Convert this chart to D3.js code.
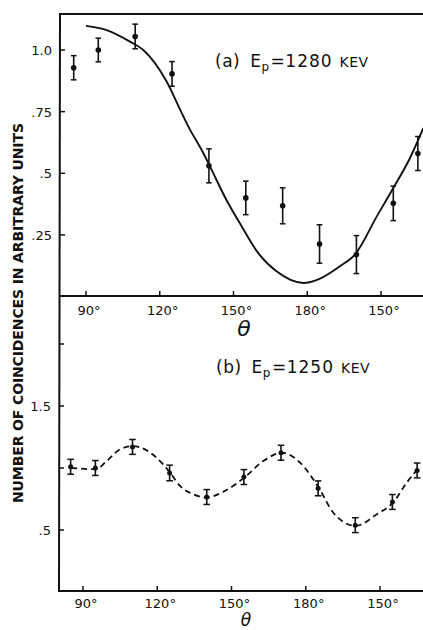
<!DOCTYPE html>
<html>
<head>
<meta charset="utf-8">
<script src="https://cdn.jsdelivr.net/npm/d3@7"></script>
<style>
html,body{margin:0;padding:0;background:#fff;}
svg{display:block;}
text{font-family:"DejaVu Sans",sans-serif;fill:#111;}
</style>
</head>
<body>
<svg id="chart" width="423" height="630"></svg>
<script>
// ---------- data ----------
const tickAngles = [90, 120, 150, 180, 210];
const tickLabels = ["90°", "120°", "150°", "180°", "150°"];

// panel (a)  Ep = 1280 keV
const thetaA = [85, 95, 110, 125, 140, 155, 170, 185, 200, 215, 225];
const valueA = [0.928, 1.0, 1.055, 0.903, 0.530, 0.400, 0.368, 0.213, 0.170, 0.378, 0.580];
const errA   = [0.049, 0.048, 0.050, 0.050, 0.069, 0.068, 0.073, 0.078, 0.077, 0.070, 0.069];
const curveThetaA = [90, 98.4, 107.9, 113.3, 122.8, 128.2, 131.6, 137.7, 140.4, 147.8, 153.3, 160, 167.5, 178.4, 185.2, 193.3, 199.4, 208.3, 215, 221.8, 227.2];
const curveValueA = [1.098, 1.081, 1.034, 1.0, 0.872, 0.76, 0.69, 0.582, 0.528, 0.379, 0.285, 0.177, 0.102, 0.055, 0.073, 0.123, 0.170, 0.325, 0.440, 0.562, 0.683];
const yTicksA = [0.25, 0.5, 0.75, 1.0];
const yLabelsA = [".25", ".5", ".75", "1.0"];

// panel (b)  Ep = 1250 keV
const thetaB = [85, 95, 110, 125, 140, 155, 170, 185, 200, 215, 225];
const valueB = [1.01, 1.0, 1.17, 0.96, 0.766, 0.927, 1.123, 0.836, 0.539, 0.726, 0.98];
const errB   = [0.06, 0.06, 0.06, 0.063, 0.06, 0.06, 0.06, 0.06, 0.06, 0.06, 0.06];
const curveThetaB = [85.2, 95.1, 99.6, 104.9, 110.3, 117.1, 122.4, 125.2, 129.2, 134.6, 140, 146.7, 155.5, 162.8, 170.5, 177.7, 185.4, 191.1, 200.2, 208.7, 215.5, 220.8, 224.8];
const curveValueB = [1.0, 0.99, 1.056, 1.15, 1.176, 1.125, 1.029, 0.962, 0.855, 0.788, 0.762, 0.808, 0.928, 1.056, 1.123, 1.043, 0.836, 0.641, 0.533, 0.627, 0.726, 0.882, 0.981];
const yTicksB = [0.5, 1.0, 1.5, 2.0];
const yLabelsB = [".5", "", "1.5", ""];

const yTitle = "NUMBER OF COINCIDENCES IN ARBITRARY UNITS";

// ---------- drawing ----------
const svg = d3.select("#chart");
const ink = "#111";

const xA = d3.scaleLinear().domain([90, 210]).range([86, 381]);
const yA = d3.scaleLinear().domain([0, 1]).range([296.5, 50]);
const xB = d3.scaleLinear().domain([90, 210]).range([83, 380]);
const yB = d3.scaleLinear().domain([0, 2]).range([592, 344]);

// frame lines
svg.append("line").attr("x1", 60).attr("y1", 14).attr("x2", 423).attr("y2", 14)
  .attr("stroke", ink).attr("stroke-width", 2);
svg.append("line").attr("x1", 60).attr("y1", 13).attr("x2", 59).attr("y2", 592)
  .attr("stroke", ink).attr("stroke-width", 2);

function panel(x, y, x0, axisY, yTicks, yLabels, xLabelBase) {
  svg.append("line").attr("x1", x0).attr("y1", axisY).attr("x2", 423).attr("y2", axisY)
    .attr("stroke", ink).attr("stroke-width", 2);
  const g = svg.append("g");
  tickAngles.forEach((a, i) => {
    g.append("line").attr("x1", x(a)).attr("x2", x(a)).attr("y1", axisY).attr("y2", axisY - 5)
      .attr("stroke", ink).attr("stroke-width", 1.5);
    g.append("text").attr("x", x(a) + 3).attr("y", xLabelBase).attr("text-anchor", "middle")
      .attr("font-size", 13).text(tickLabels[i]);
  });
  yTicks.forEach((v, i) => {
    g.append("line").attr("x1", x0).attr("x2", x0 + 5).attr("y1", y(v)).attr("y2", y(v))
      .attr("stroke", ink).attr("stroke-width", 1.5);
    if (yLabels[i]) {
      g.append("text").attr("x", x0 - 8).attr("y", y(v) + 5).attr("text-anchor", "end")
        .attr("font-size", 13).text(yLabels[i]);
    }
  });
}
panel(xA, yA, 60, 296, yTicksA, yLabelsA, 315);
panel(xB, yB, 59, 591, yTicksB, yLabelsB, 608);

svg.append("clipPath").attr("id", "clipA").append("rect").attr("x", 60).attr("y", 14).attr("width", 363).attr("height", 282);
svg.append("clipPath").attr("id", "clipB").append("rect").attr("x", 59).attr("y", 297).attr("width", 364).attr("height", 294);

// curve (a) solid
const lineA = d3.line().x(d => xA(d[0])).y(d => yA(d[1])).curve(d3.curveMonotoneX);
svg.append("path").attr("clip-path", "url(#clipA)")
  .attr("d", lineA(curveThetaA.map((t, i) => [t, curveValueA[i]])))
  .attr("fill", "none").attr("stroke", ink).attr("stroke-width", 1.9);

// curve (b) dashed
const lineB = d3.line().x(d => xB(d[0])).y(d => yB(d[1])).curve(d3.curveMonotoneX);
svg.append("path").attr("clip-path", "url(#clipB)")
  .attr("d", lineB(curveThetaB.map((t, i) => [t, curveValueB[i]])))
  .attr("fill", "none").attr("stroke", ink).attr("stroke-width", 1.8)
  .attr("stroke-dasharray", "6,4");

function points(x, y, th, val, err, cap, r) {
  const g = svg.append("g");
  th.forEach((t, i) => {
    const cx = x(t), y1 = y(val[i] + err[i]), y2 = y(val[i] - err[i]);
    g.append("line").attr("x1", cx).attr("x2", cx).attr("y1", y1).attr("y2", y2)
      .attr("stroke", ink).attr("stroke-width", 1.6);
    [y1, y2].forEach(yy => g.append("line").attr("x1", cx - cap).attr("x2", cx + cap)
      .attr("y1", yy).attr("y2", yy).attr("stroke", ink).attr("stroke-width", 1.5));
    g.append("circle").attr("cx", cx).attr("cy", y(val[i])).attr("r", r).attr("fill", ink);
  });
}
points(xA, yA, thetaA, valueA, errA, 2.8, 2.8);
points(xB, yB, thetaB, valueB, errB, 3.3, 2.5);

// panel labels
function label(x, y, letter, energy) {
  const t = svg.append("text").attr("x", x).attr("y", y).attr("font-size", 17).attr("letter-spacing", 0.5);
  t.append("tspan").text(letter);
  t.append("tspan").attr("dx", 10).text("E");
  t.append("tspan").attr("font-size", 12).attr("dy", 4).text("p");
  t.append("tspan").attr("dy", -4).attr("dx", 1).text("=");
  t.append("tspan").attr("letter-spacing", 1).text(energy);
  t.append("tspan").attr("dx", 7).attr("font-size", 14).attr("letter-spacing", 0.5).text("KEV");
}
label(215, 66.7, "(a)", "1280");
label(216, 373.3, "(b)", "1250");

// axis titles
svg.append("text").attr("x", 244).attr("y", 336).attr("text-anchor", "middle")
  .attr("font-size", 22).attr("font-style", "italic").text("θ");
svg.append("text").attr("x", 246).attr("y", 626).attr("text-anchor", "middle")
  .attr("font-size", 17).attr("font-style", "italic").text("θ");

svg.append("text").attr("transform", "translate(23,313) rotate(-90)")
  .attr("text-anchor", "middle").attr("font-size", 14).attr("font-weight", "bold")
  .attr("textLength", 380).attr("lengthAdjust", "spacing").text(yTitle);
</script>
</body>
</html>
